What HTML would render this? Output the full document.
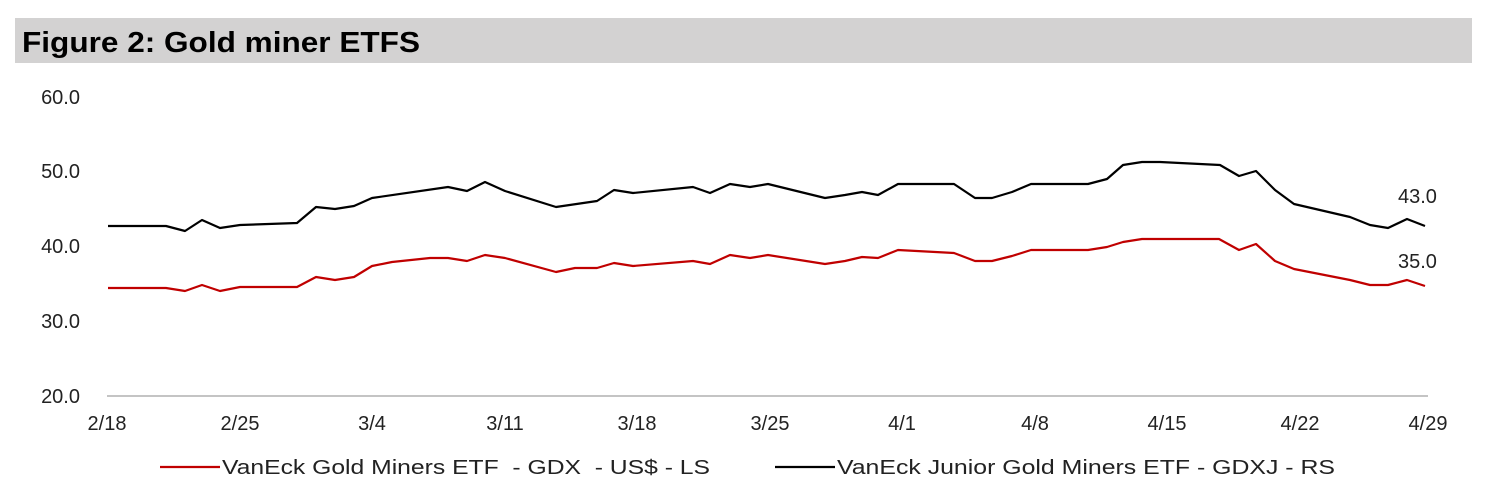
<!DOCTYPE html>
<html><head><style>
body{margin:0;background:#fff;width:1490px;height:490px;overflow:hidden;font-family:"Liberation Sans",Arial,sans-serif}
</style></head><body>
<svg width="1490" height="490" xmlns="http://www.w3.org/2000/svg" font-family="Liberation Sans, Arial, sans-serif">
<rect x="15" y="18" width="1457" height="45" fill="#d3d2d2"/>
<text x="22" y="52" font-size="29" font-weight="bold" fill="#000" textLength="398" lengthAdjust="spacingAndGlyphs">Figure 2: Gold miner ETFS</text>
<g font-size="20" fill="#222" text-anchor="end">
<text x="80" y="104">60.0</text><text x="80" y="178">50.0</text><text x="80" y="253">40.0</text><text x="80" y="328">30.0</text><text x="80" y="403">20.0</text>
</g>
<line x1="107" y1="396" x2="1428" y2="396" stroke="#888" stroke-width="1"/>
<g font-size="20" fill="#222" text-anchor="middle">
<text x="107" y="430">2/18</text><text x="240" y="430">2/25</text><text x="372" y="430">3/4</text><text x="505" y="430">3/11</text><text x="637" y="430">3/18</text><text x="770" y="430">3/25</text><text x="902" y="430">4/1</text><text x="1035" y="430">4/8</text><text x="1167" y="430">4/15</text><text x="1300" y="430">4/22</text><text x="1428" y="430">4/29</text>
</g>
<polyline fill="none" stroke="#000" stroke-width="2.2" stroke-linejoin="round" points="108,226 166,226 185,231 202,220 220,228 240,225 297,223 316,207 335,209 354,206 372,198 448,187 467,191 485,182 505,191 556,207 597,201 614,190 633,193 693,187 710,193 730,184 750,187 768,184 825,198 845,195 862,192 878,195 898,184 954,184 975,198 992,198 1012,192 1031,184 1088,184 1107,179 1123,165 1142,162 1160,162 1220,165 1239,176 1256,171 1275,190 1294,204 1350,217 1370,225 1388,228 1407,219 1425,226"/>
<polyline fill="none" stroke="#c00000" stroke-width="2.2" stroke-linejoin="round" points="108,288 166,288 185,291 202,285 220,291 240,287 297,287 316,277 335,280 354,277 372,266 392,262 430,258 448,258 467,261 485,255 505,258 556,272 575,268 597,268 614,263 633,266 693,261 710,264 730,255 750,258 768,255 825,264 845,261 862,257 878,258 898,250 954,253 975,261 992,261 1012,256 1031,250 1088,250 1107,247 1123,242 1142,239 1219,239 1239,250 1256,244 1275,261 1294,269 1350,280 1370,285 1388,285 1407,280 1425,286"/>
<g font-size="20" fill="#222">
<text x="1398" y="203">43.0</text><text x="1398" y="268">35.0</text>
</g>
<line x1="160" y1="467" x2="220" y2="467" stroke="#c00000" stroke-width="2.2"/>
<text x="222" y="474" font-size="20" fill="#222" xml:space="preserve" textLength="488" lengthAdjust="spacingAndGlyphs">VanEck Gold Miners ETF  - GDX  - US$ - LS</text>
<line x1="775" y1="467" x2="835" y2="467" stroke="#000" stroke-width="2.2"/>
<text x="837" y="474" font-size="20" fill="#222" textLength="498" lengthAdjust="spacingAndGlyphs">VanEck Junior Gold Miners ETF - GDXJ - RS</text>
</svg>
</body></html>
